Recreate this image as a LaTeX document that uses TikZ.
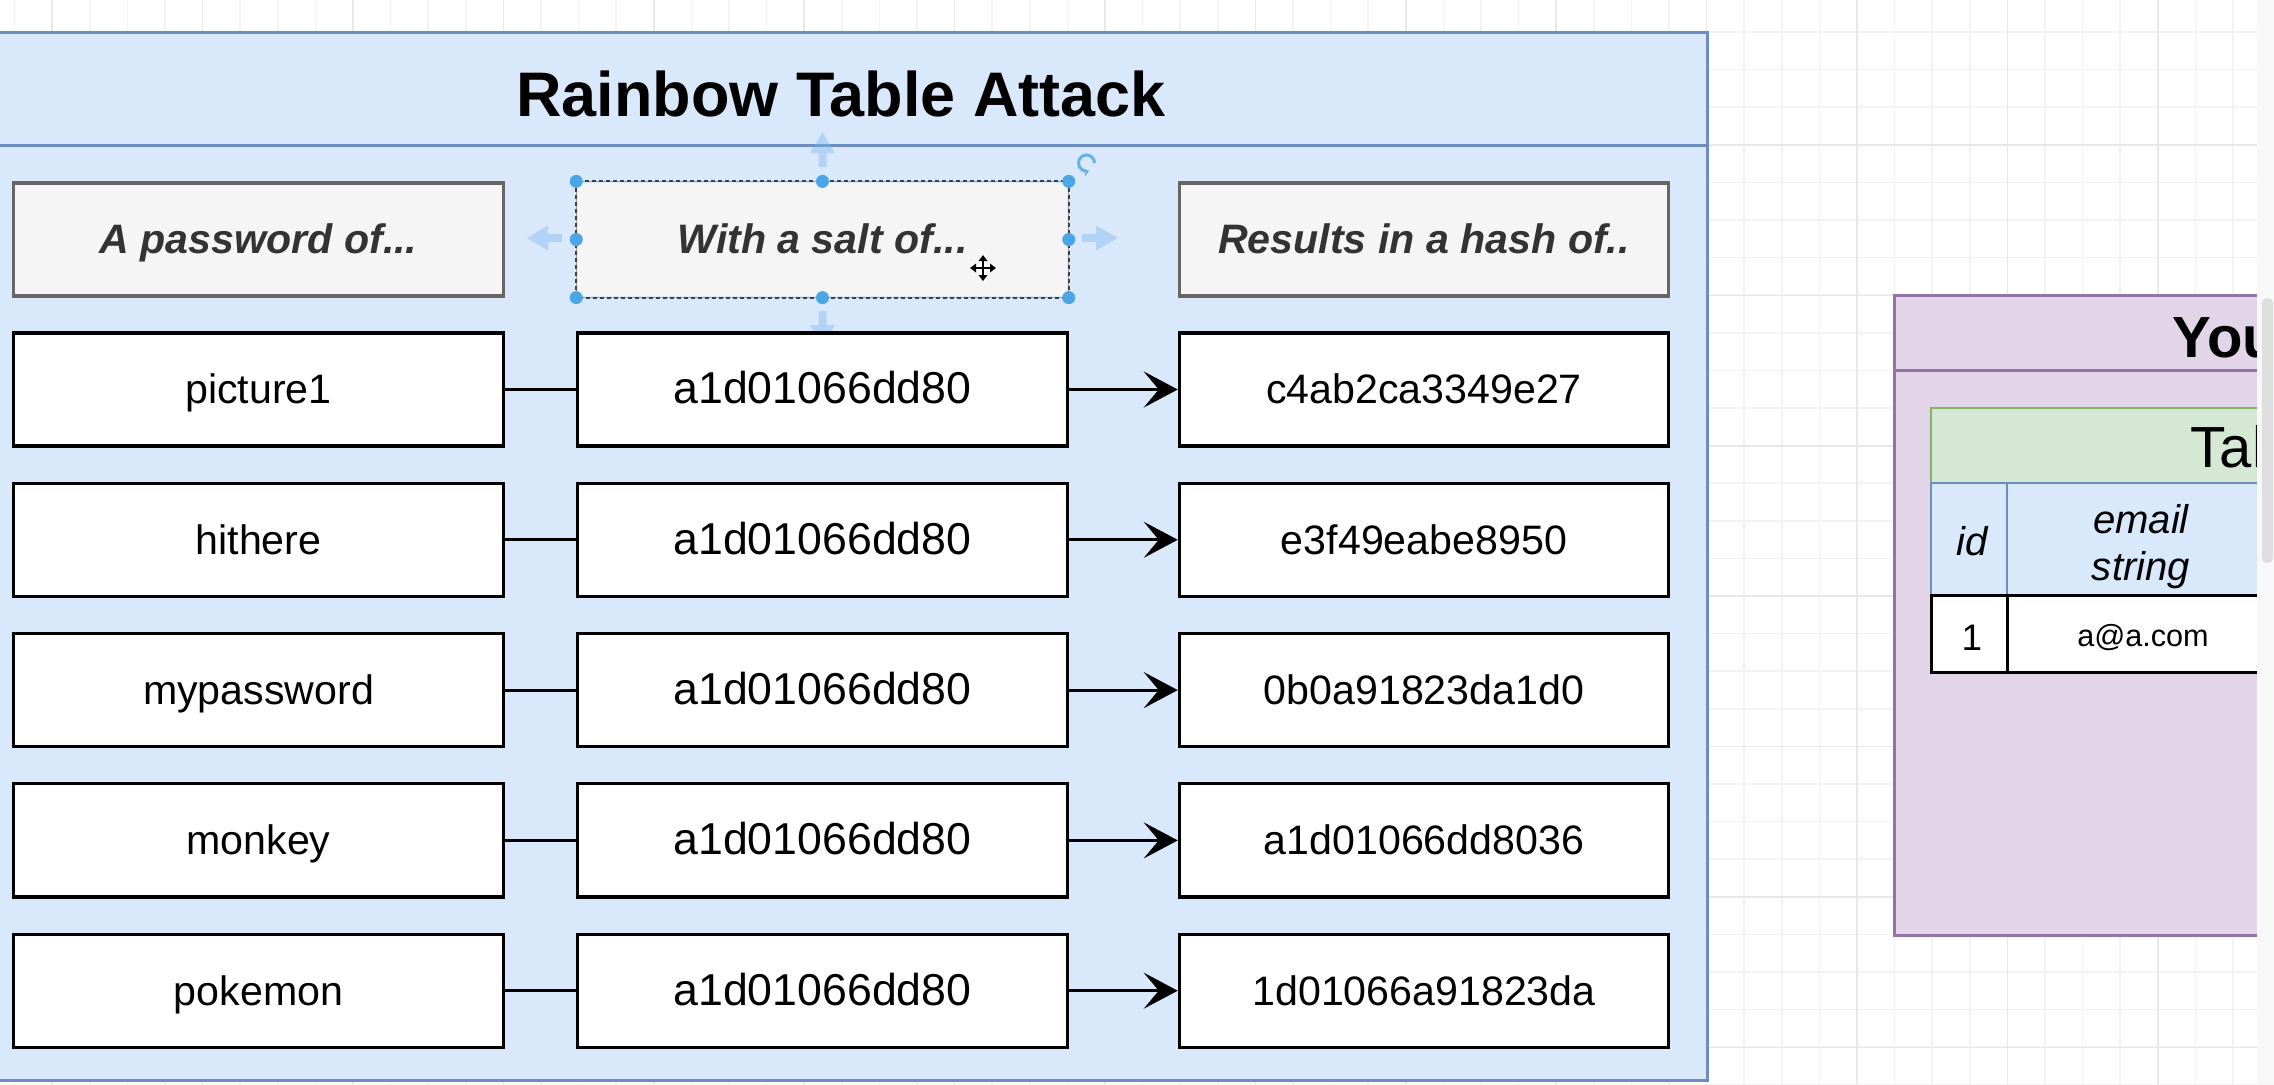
\documentclass[tikz,border=0pt]{standalone}
\usepackage{fontspec}
\setmainfont{Liberation Sans}
\usetikzlibrary{arrows.meta}
\definecolor{bluefill}{HTML}{DAE8FC}
\definecolor{bluedraw}{HTML}{6C8EBF}
\definecolor{purpfill}{HTML}{E1D5E7}
\definecolor{purpdraw}{HTML}{9673A6}
\definecolor{greenfill}{HTML}{D5E8D4}
\definecolor{greendraw}{HTML}{82B366}
\definecolor{hdrfill}{HTML}{F5F5F5}
\definecolor{hdrdraw}{HTML}{666666}
\definecolor{hdrtext}{HTML}{333333}
\definecolor{gridminor}{HTML}{F3F3F3}
\definecolor{gridmajor}{HTML}{E8E8E8}
\definecolor{handle}{HTML}{4AA6E6}
\definecolor{ghost}{HTML}{78B4EB}
\definecolor{scrollbg}{HTML}{F8F8F8}
\definecolor{scrollthumb}{HTML}{DEDEDE}
\begin{document}
\begin{tikzpicture}[x=0.01cm,y=-0.01cm,
  cell/.style={draw=black, fill=white, line width=0.032cm, minimum width=4.89cm, minimum height=1.13cm,
    inner sep=0pt, text height=0.82em, text depth=0pt, font=\fontsize{11.7}{14}\selectfont},
  saltcell/.style={cell, font=\fontsize{12.7}{15}\selectfont},
  hdr/.style={cell, draw=hdrdraw, fill=hdrfill, text=hdrtext, font=\fontsize{11.7}{14}\selectfont\bfseries\itshape},
  link/.style={line width=0.03cm},
  flow/.style={line width=0.03cm, -{Stealth[length=0.34cm,width=0.36cm,inset=0.15cm]}},
  ghostarrow/.style={fill=ghost, opacity=0.4},
  lbl/.style={inner sep=0pt, anchor=base},
]
\useasboundingbox (0,0) rectangle (2274,1084);
\begin{scope}
\clip (0,0) rectangle (2274,1084);
\fill[white] (0,0) rectangle (2274,1084);
% grid
\foreach \i in {0,...,60} {
  \pgfmathsetmacro\gx{14.6+37.6*\i}
  \draw[gridminor, line width=0.015cm] (\gx,0) -- (\gx,1084);
}
\foreach \i in {0,...,29} {
  \pgfmathsetmacro\gy{-5.6+37.6*\i}
  \draw[gridminor, line width=0.015cm] (0,\gy) -- (2274,\gy);
}
\foreach \i in {0,...,15} {
  \pgfmathsetmacro\gx{52.2+150.4*\i}
  \draw[gridmajor, line width=0.015cm] (\gx,0) -- (\gx,1084);
}
\foreach \i in {0,...,7} {
  \pgfmathsetmacro\gy{-5.4+150.4*\i}
  \draw[gridmajor, line width=0.015cm] (0,\gy) -- (2274,\gy);
}

% main container
\draw[fill=bluefill, draw=bluedraw, line width=0.03cm] (-30,32) rectangle (1707,1080);
\draw[bluedraw, line width=0.03cm] (-30,145) -- (1707,145);
\node[lbl, font=\fontsize{17.9}{20}\selectfont\bfseries] (title) at (841,116) {Rainbow Table Attack};

% headers
\node[hdr] (h1) at (258.5,239.5) {A password of...};
\node[hdr, draw=none] (h2) at (822.5,239.5) {With a salt of...};
\node[hdr] (h3) at (1424,239.5) {Results in a hash of..};

% selection decoration on h2
\draw[hdrdraw!60, line width=0.015cm] (h2.north west) rectangle (h2.south east);
\draw[black!75, line width=0.02cm, dash pattern=on 0.04cm off 0.03cm] (h2.north west) rectangle (h2.south east);
\foreach \a in {north west,north,north east,west,east,south west,south,south east}
  \fill[handle] (h2.\a) circle (0.065cm);
\fill[ghostarrow] (818.5,167)--(818.5,153)--(810,153)--(822.5,132)--(835,153)--(826.5,153)--(826.5,167)--cycle;
\fill[ghostarrow] (818.5,311)--(818.5,325)--(810,325)--(822.5,347)--(835,325)--(826.5,325)--(826.5,311)--cycle;
\fill[ghostarrow] (562,234)--(548,234)--(548,225.5)--(527,238)--(548,250.5)--(548,242)--(562,242)--cycle;
\fill[ghostarrow] (1082,234)--(1096,234)--(1096,225.5)--(1118,238)--(1096,250.5)--(1096,242)--(1082,242)--cycle;
\draw[handle!85, line width=0.03cm, -{Stealth[length=0.06cm,width=0.08cm]}] (1094.5,163) arc[start angle=0, end angle=290, radius=0.08cm];
% move cursor
\draw[white, line width=0.06cm] (970,268) -- (996,268) (983,255) -- (983,281);
\draw[black, line width=0.02cm] (973,268) -- (993,268) (983,258) -- (983,278);
\fill[black] (983,255) -- (978.5,261) -- (987.5,261) -- cycle;
\fill[black] (983,281) -- (978.5,275) -- (987.5,275) -- cycle;
\fill[black] (970,268) -- (976,263.5) -- (976,272.5) -- cycle;
\fill[black] (996,268) -- (990,263.5) -- (990,272.5) -- cycle;

% rows
\foreach \pw/\hs [count=\r from 0] in {picture1/c4ab2ca3349e27, hithere/e3f49eabe8950, mypassword/0b0a91823da1d0, monkey/a1d01066dd8036, pokemon/1d01066a91823da} {
  \pgfmathsetmacro\ry{389.5+150.3*\r}
  \node[cell] (p\r) at (258.5,\ry) {\pw};
  \node[saltcell] (s\r) at (822.5,\ry) {a1d01066dd80};
  \node[cell] (x\r) at (1424,\ry) {\hs};
  \draw[link] (p\r) -- (s\r);
  \draw[flow] (s\r) -- (x\r);
}

% right panel
\draw[fill=purpfill, draw=purpdraw, line width=0.03cm] (1894,295) rectangle (2320,935);
\draw[purpdraw, line width=0.03cm] (1894,370.5) -- (2320,370.5);
\node[inner sep=0pt, anchor=base west, font=\fontsize{16.5}{20}\selectfont\bfseries] (you) at (2172,357) {You};
\draw[fill=greenfill, draw=greendraw, line width=0.02cm] (1931,408) rectangle (2320,483);
\node[inner sep=0pt, anchor=base west, font=\fontsize{16.5}{20}\selectfont] (tal) at (2190,467) {Tal};
\draw[fill=bluefill, draw=bluedraw, line width=0.02cm] (1931,483) rectangle (2320,595);
\draw[bluedraw, line width=0.02cm] (2007,483) -- (2007,595);
\node[lbl, font=\fontsize{11.4}{13}\selectfont\itshape] (idh) at (1972,555) {id};
\node[lbl, font=\fontsize{11.4}{13}\selectfont\itshape] (em1) at (2141,533) {email};
\node[lbl, font=\fontsize{11.4}{13}\selectfont\itshape] (em2) at (2141,580) {string};
\draw[fill=white, draw=black, line width=0.03cm] (1931,595) rectangle (2320,672);
\draw[black, line width=0.03cm] (2007,595) -- (2007,672);
\node[lbl, font=\fontsize{10.5}{12}\selectfont] (one) at (1972,650) {1};
\node[lbl, font=\fontsize{8.7}{10}\selectfont] (mail) at (2143,646) {a@a.com};

% scrollbar strip
\fill[scrollbg] (2257,0) rectangle (2274,1084);
\fill[scrollthumb, rounded corners=0.05cm] (2262,298) rectangle (2273,563);
\end{scope}
\end{tikzpicture}
\end{document}
